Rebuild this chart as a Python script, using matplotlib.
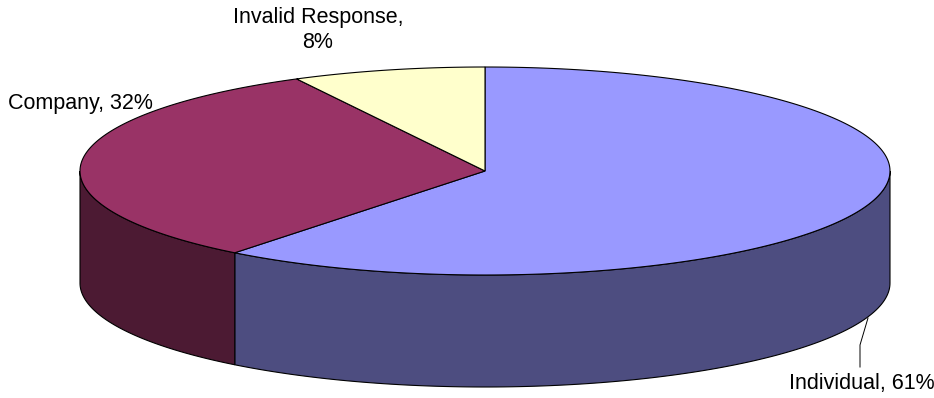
import numpy as np
import matplotlib
matplotlib.use("Agg")
import matplotlib.pyplot as plt
from matplotlib.patches import Polygon

# data (shares of responses, percent)
labels = ["Individual", "Company", "Invalid Response"]
values = [60.6, 31.7, 7.7]
shown = ["61%", "32%", "8%"]
top_colors = ["#9999FF", "#993366", "#FFFFCC"]
side_colors = ["#4D4D80", "#4C1A33", "#80806A"]

# pie geometry in pixel space
cx, cy, rx, ry, depth = 485, 171, 405, 104, 112

def pt(theta, dy=0.0):
    t = np.radians(theta)
    return cx + rx * np.sin(t), cy - ry * np.cos(t) + dy

fig = plt.figure(figsize=(9.34, 3.98), dpi=100)
ax = fig.add_axes([0, 0, 1, 1])
ax.set_xlim(0, 934)
ax.set_ylim(398, 0)
ax.axis("off")

fracs = np.array(values) / sum(values)
starts = np.concatenate([[0], np.cumsum(fracs)[:-1]]) * 360
ends = np.cumsum(fracs) * 360

# front side walls
for s, e, sc in zip(starts, ends, side_colors):
    a, b = max(s, 90), min(e, 270)
    if a >= b:
        continue
    th = np.linspace(a, b, 120)
    xs, ys = pt(th)
    xb, yb = pt(th[::-1], depth)
    poly = np.column_stack([np.concatenate([xs, xb]), np.concatenate([ys, yb])])
    ax.add_patch(Polygon(poly, closed=True, facecolor=sc, edgecolor="black", lw=0.8))

# top faces
for s, e, tc in zip(starts, ends, top_colors):
    th = np.linspace(s, e, 200)
    xs, ys = pt(th)
    poly = np.column_stack([np.concatenate([[cx], xs]), np.concatenate([[cy], ys])])
    ax.add_patch(Polygon(poly, closed=True, facecolor=tc, edgecolor="black", lw=0.8))

font = dict(family="Liberation Sans", fontsize=15.5, color="black")
ax.text(318, 30, labels[2] + ",\n" + shown[2], ha="center", va="center",
        linespacing=1.2, **font)
ax.text(8, 103, labels[1] + ", " + shown[1], ha="left", va="center", **font)
ax.text(789, 384, labels[0] + ", " + shown[0], ha="left", va="center", **font)

# leader line for Individual
ax.plot([860, 860, 868], [367, 345, 318], color="black", lw=0.7)

fig.savefig("out.png", dpi=100)
